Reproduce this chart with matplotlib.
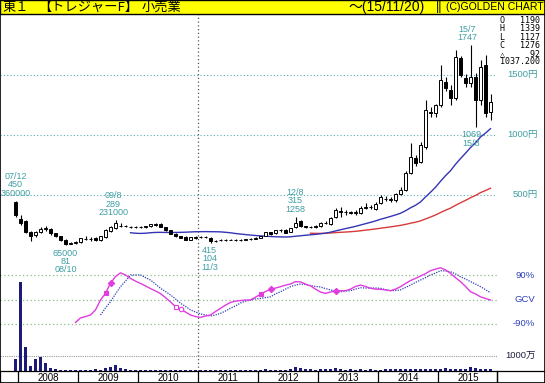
"""
Treasure Factory (東1 3093) monthly candles, 24/60 month MAs, GCV oscillator, volume
- Golden Chart style layout, 545x383 px
"""

import numpy as np
import pandas as pd
import matplotlib.pyplot as plt
from matplotlib.patches import Rectangle
from matplotlib.transforms import blended_transform_factory

# ── Fonts ─────────────────────────────────────────────────────────────────────
LATIN = 'Liberation Sans'
JP = 'Noto Sans CJK JP'
plt.rcParams['font.family'] = [LATIN, JP, 'DejaVu Sans']

# ── Data (monthly, 2007/12 .. 2015/11) ────────────────────────────────────────
open_ = [440, 300, 285, 195, 165, 195, 220, 215, 180, 155, 125, 95,
         100, 108, 135, 130, 145, 125, 150, 200, 225, 245, 240, 235,
         232, 230, 232, 240, 255, 258, 232, 205, 178, 155, 148, 128,
         140, 152, 150, 145, 118, 122, 126, 125, 128, 126, 128, 132,
         136, 142, 162, 190, 180, 206, 212, 192, 230, 285, 238, 230,
         235, 240, 268, 255, 320, 365, 360, 358, 350, 350, 395, 398,
         380, 431, 470, 462, 455, 508, 542, 681, 808, 778, 903, 1190,
         1181, 1250, 1444, 1375, 1306, 1640, 1472, 1431, 1486, 1292, 1583, 1190]
high = [450, 330, 290, 200, 200, 230, 245, 225, 185, 160, 130, 110,
        115, 145, 160, 150, 150, 160, 215, 240, 289, 265, 250, 245,
        240, 240, 245, 262, 265, 265, 235, 210, 182, 160, 155, 150,
        158, 160, 158, 150, 128, 132, 132, 133, 134, 132, 136, 140,
        148, 160, 195, 195, 212, 218, 220, 228, 315, 295, 245, 240,
        250, 275, 280, 320, 392, 400, 375, 365, 372, 412, 430, 420,
        440, 500, 490, 485, 515, 570, 700, 935, 830, 940, 1290, 1230,
        1260, 1580, 1480, 1420, 1710, 1660, 1510, 1747, 1520, 1625, 1667, 1339]
low = [320, 250, 185, 120, 150, 185, 200, 170, 150, 120, 81, 88,
       92, 100, 125, 120, 120, 120, 145, 195, 220, 235, 230, 225,
       225, 225, 225, 235, 245, 232, 200, 172, 150, 138, 122, 125,
       132, 145, 142, 104, 110, 118, 120, 121, 120, 120, 124, 128,
       132, 138, 160, 170, 175, 195, 180, 188, 225, 230, 225, 222,
       228, 235, 255, 250, 310, 320, 335, 340, 335, 345, 380, 385,
       375, 425, 450, 440, 445, 500, 530, 675, 740, 770, 880, 1150,
       1150, 1230, 1370, 1250, 1292, 1480, 1400, 1400, 1069, 1250, 1150, 1127]
close = [335, 270, 195, 160, 190, 220, 225, 180, 155, 125, 95, 100,
         108, 140, 132, 135, 125, 155, 205, 230, 265, 242, 238, 232,
         230, 232, 238, 256, 252, 236, 205, 178, 155, 145, 128, 146,
         152, 150, 148, 115, 120, 126, 125, 128, 126, 128, 132, 136,
         142, 155, 192, 175, 206, 205, 186, 222, 265, 238, 232, 235,
         244, 268, 264, 312, 372, 360, 355, 348, 356, 395, 400, 402,
         425, 486, 468, 465, 508, 542, 681, 819, 767, 917, 1208, 1180,
         1250, 1458, 1389, 1306, 1653, 1500, 1431, 1486, 1292, 1569, 1184, 1276]
# volume in 万株
volume = [780, 5930, 1560, 330, 780, 890, 490, 180, 90, 50, 50, 50,
          50, 60, 60, 40, 130, 60, 200, 270, 360, 150, 130, 40,
          30, 40, 50, 40, 30, 50, 60, 40, 40, 30, 40, 40,
          50, 60, 40, 30, 30, 40, 30, 30, 40, 30, 30, 40,
          60, 80, 90, 70, 80, 60, 70, 90, 270, 180, 110, 90,
          80, 100, 90, 110, 150, 130, 80, 90, 70, 100, 80, 90,
          80, 70, 90, 100, 110, 90, 130, 130, 110, 120, 130, 100,
          120, 110, 150, 120, 130, 110, 140, 220, 160, 110, 130, 120]
nan = np.nan
# GCV oscillator (%) and its signal line
gcv = [nan] * 12 + [
    -86, -69, -64, -58, -39, -2, 23, 61, 86, 100, 92, 79,
    69, 60, 51, 41, 32, 22, 7, -9, -27, -36, -47, -58,
    -64, -67, -62, -58, -45, -33, -21, -11, -6, -4, -2, -2,
    9, 19, 30, 38, 43, 48, 54, 58, 67, 66, 58, 51,
    39, 28, 23, 28, 33, 33, 33, 39, 49, 54, 49, 42,
    39, 38, 36, 33, 39, 48, 60, 71, 79, 88, 97, 108,
    114, 119, 111, 98, 82, 67, 49, 29, 21, 10, 4, -2]
gcv_signal = [nan] * 17 + [
    -58, -32, -8, 21, 48, 69, 92,
    92, 92, 82, 73, 58, 42, 30, 17, 2, -14, -26, -39,
    -47, -54, -58, -62, -58, -52, -43, -33, -24, -13, -6, -2,
    2, 4, 7, 10, 21, 29, 39, 48, 54, 58, 56, 52,
    49, 47, 41, 36, 32, 29, 32, 33, 39, 44, 43, 43,
    43, 42, 37, 33, 34, 36, 45, 54, 64, 73, 82, 92,
    99, 108, 107, 104, 96, 85, 77, 67, 58, 48, 37, 25]
years = ['2008', '2009', '2010', '2011', '2012', '2013', '2014', '2015']
price_levels = [500, 1000, 1500]
price_level_labels = ['500円', '1000円', '1500円']
gcv_levels = [90, 0, -90]
gcv_level_labels = ['90%', 'GCV', '-90%']
vol_level, vol_level_label = 1000, '1000万'
ohlc_labels = ['O', 'H', 'L', 'C', '△']
last_change = close[-1] - close[-2]
ma24_last = 1037.2          # value printed by the chart under the OHLC box

# markers on the GCV line (month index, marker, filled)
gcv_marks = [(18, 's', True), (19, 'D', True), (32, 's', False), (33, 'o', False),
             (49, 's', True), (51, 'D', True), (64, 'D', True)]

# high/low notes: (month index, lines, above?, x nudge in px)
notes = [
    (0, ['07/12', '450', '360000'], True, 0),
    (20, ['09/8', '289', '231000'], True, -2),
    (56, ['12/8', '315', '1258'], True, 0),
    (91, ['15/7', '1747'], True, -3),
    (10, ['65000', '81', '08/10'], False, 0),
    (39, ['415', '104', '11/3'], False, -1),
    (92, ['1069', '15/8'], False, -4),
]

idx = np.arange(len(close))
ma24 = pd.Series(close).rolling(24).mean()
ma60 = pd.Series(close).rolling(60).mean()

# ── Colours ───────────────────────────────────────────────────────────────────
TEAL = '#3f9ea3'
NAVY = '#1c1c78'
GCV_BLUE = '#2f3fb8'
MAGENTA = '#e03ce0'

# ── Layout helpers (pixel boxes) ──────────────────────────────────────────────
W, H = 545, 383
X0, PXM = 15.5, 5.0          # pixel x of first month, pixels per month
XLIM = ((0 - X0) / PXM, (497 - X0) / PXM)
SMALL = 6.8


def frac(x0, y0, x1, y1):
    return [x0 / W, 1 - y1 / H, (x1 - x0) / W, (y1 - y0) / H]


def bare(ax):
    ax.set_axis_off()
    ax.patch.set_alpha(0)
    ax.set_xlim(*XLIM)


fig = plt.figure(figsize=(W / 100, H / 100), dpi=100)
fig.patch.set_facecolor('white')

# ── Price panel ───────────────────────────────────────────────────────────────
axp = fig.add_axes(frac(0, 14, 497, 262))
bare(axp)
axp.set_ylim((255 - 262) / 0.12, (255 - 14) / 0.12)

for lv in price_levels:
    axp.axhline(lv, color=TEAL, linestyle=(0, (1, 2)), linewidth=0.8, alpha=0.85)

axp.plot(idx, ma60, color='#d83a3a', linewidth=1.0, zorder=2)
axp.plot(idx, ma24, color='#3434b4', linewidth=1.0, zorder=2)

o = np.array(open_, float)
c = np.array(close, float)
up = c >= o
axp.vlines(idx, low, high, color='black', linewidth=0.8, zorder=3)
body = np.maximum(np.abs(c - o), 1.0)
axp.bar(idx, body, bottom=np.minimum(o, c), width=0.72,
        color=np.where(up, 'white', 'black'), edgecolor='black',
        linewidth=0.7, zorder=4)

for m, lines, above, dx in notes:
    for k, s in enumerate(lines):
        if above:
            y, off = high[m], 8 + 8.3 * (len(lines) - 1 - k)
        else:
            y, off = low[m], -(8 + 8.3 * k)
        axp.annotate(s, xy=(m, y), xytext=(dx, off), textcoords='offset pixels',
                     ha='center', va='center', fontsize=6.5, color=TEAL, zorder=5)

tr = blended_transform_factory(axp.transAxes, axp.transData)
for lv, lab in zip(price_levels, price_level_labels):
    axp.text(538 / 497, lv, lab, transform=tr, ha='right', va='center',
             fontsize=SMALL, color=TEAL)

# ── GCV oscillator ────────────────────────────────────────────────────────────
axo = fig.add_axes(frac(0, 262, 497, 345))
bare(axo)
axo.set_ylim((299.5 - 345) / 0.2667, (299.5 - 262) / 0.2667)
for lv in gcv_levels:
    axo.axhline(lv, color='#8cb88c', linestyle=(0, (1, 2)), linewidth=0.9)
axo.plot(idx, gcv_signal, color=GCV_BLUE, linestyle=(0, (1, 1)), linewidth=0.9)
axo.plot(idx, gcv, color=MAGENTA, linewidth=1.0)
for m, mk, filled in gcv_marks:
    axo.plot(m, gcv[m], marker=mk, markersize=3.2, color=MAGENTA,
             markerfacecolor=MAGENTA if filled else 'white', markeredgewidth=0.8)
tro = blended_transform_factory(axo.transAxes, axo.transData)
for lv, lab in zip(gcv_levels, gcv_level_labels):
    axo.text(535 / 497, lv, lab, transform=tro, ha='right', va='center',
             fontsize=SMALL, color=GCV_BLUE)

# ── Volume ────────────────────────────────────────────────────────────────────
axv = fig.add_axes(frac(0, 270, 497, 370.7))
bare(axv)
axv.set_ylim(0, (370.7 - 270) / 15 * 1000)
axv.axhline(vol_level, color='#999999', linestyle=(0, (1, 1)), linewidth=0.8)
axv.bar(idx, volume, width=0.5, color=NAVY, zorder=3)
trv = blended_transform_factory(axv.transAxes, axv.transData)
axv.text(536 / 497, vol_level, vol_level_label, transform=trv, ha='right',
         va='center', fontsize=SMALL, color='#202040')

# ── Event line across panels ──────────────────────────────────────────────────
axl = fig.add_axes(frac(0, 14, 497, 371))
bare(axl)
axl.set_ylim(0, 1)
axl.axvline(36.5, color='#555555', linestyle=(0, (1, 2)), linewidth=0.9)

# ── Year strip ────────────────────────────────────────────────────────────────
axy = fig.add_axes(frac(0, 371, 497, 383))
axy.set_xlim(*XLIM)
axy.set_ylim(0, 1)
axy.set_xticks([])
axy.set_yticks([])
for sp in axy.spines.values():
    sp.set_linewidth(0.9)
for k, yr in enumerate(years):
    axy.axvline(0.5 + 12 * k, color='black', linewidth=0.9)
    axy.text(6.5 + 12 * k, 0.45, yr, ha='center', va='center', fontsize=7)
fig.add_artist(Rectangle((497 / W, 0), 48 / W, 12 / H, transform=fig.transFigure,
                         fill=False, edgecolor='black', linewidth=0.9))

# ── Title bar ─────────────────────────────────────────────────────────────────
fig.add_artist(Rectangle((0, 1 - 13.5 / H), 1, 13.5 / H, transform=fig.transFigure,
                         facecolor='#ffff00', edgecolor='black', linewidth=1.0))
ty = 1 - 7 / H
fig.text(2 / W, ty, '東１', family=[JP], fontsize=9.5, va='center')
fig.text(38 / W, ty, '【トレジャーF】', family=[JP], fontsize=9.5, va='center')
fig.text(142 / W, ty, '小売業', family=[JP], fontsize=9.5, va='center')
fig.text(348 / W, ty, '～(15/11/20)', fontsize=10, va='center')
fig.text(436 / W, ty, '||', fontsize=9, va='center')
fig.text(446 / W, ty, '(C)GOLDEN CHART', fontsize=7.6, va='center')

# ── OHLC box (one monospaced block) ───────────────────────────────────────────
vals = [open_[-1], high[-1], low[-1], close[-1], last_change]
rows = [f'{lab}{v:>7}' for lab, v in zip(ohlc_labels, vals)] + [f'{ma24_last:.3f}']
fig.text(500 / W, 1 - 16 / H, '\n'.join(rows), fontsize=6.0, va='top',
         family=['DejaVu Sans Mono', JP], linespacing=0.9)

# outer frame
fig.add_artist(Rectangle((0, 0), 1, 1, transform=fig.transFigure, fill=False,
                         edgecolor='black', linewidth=1.2))

fig.savefig('out.png', dpi=100)
